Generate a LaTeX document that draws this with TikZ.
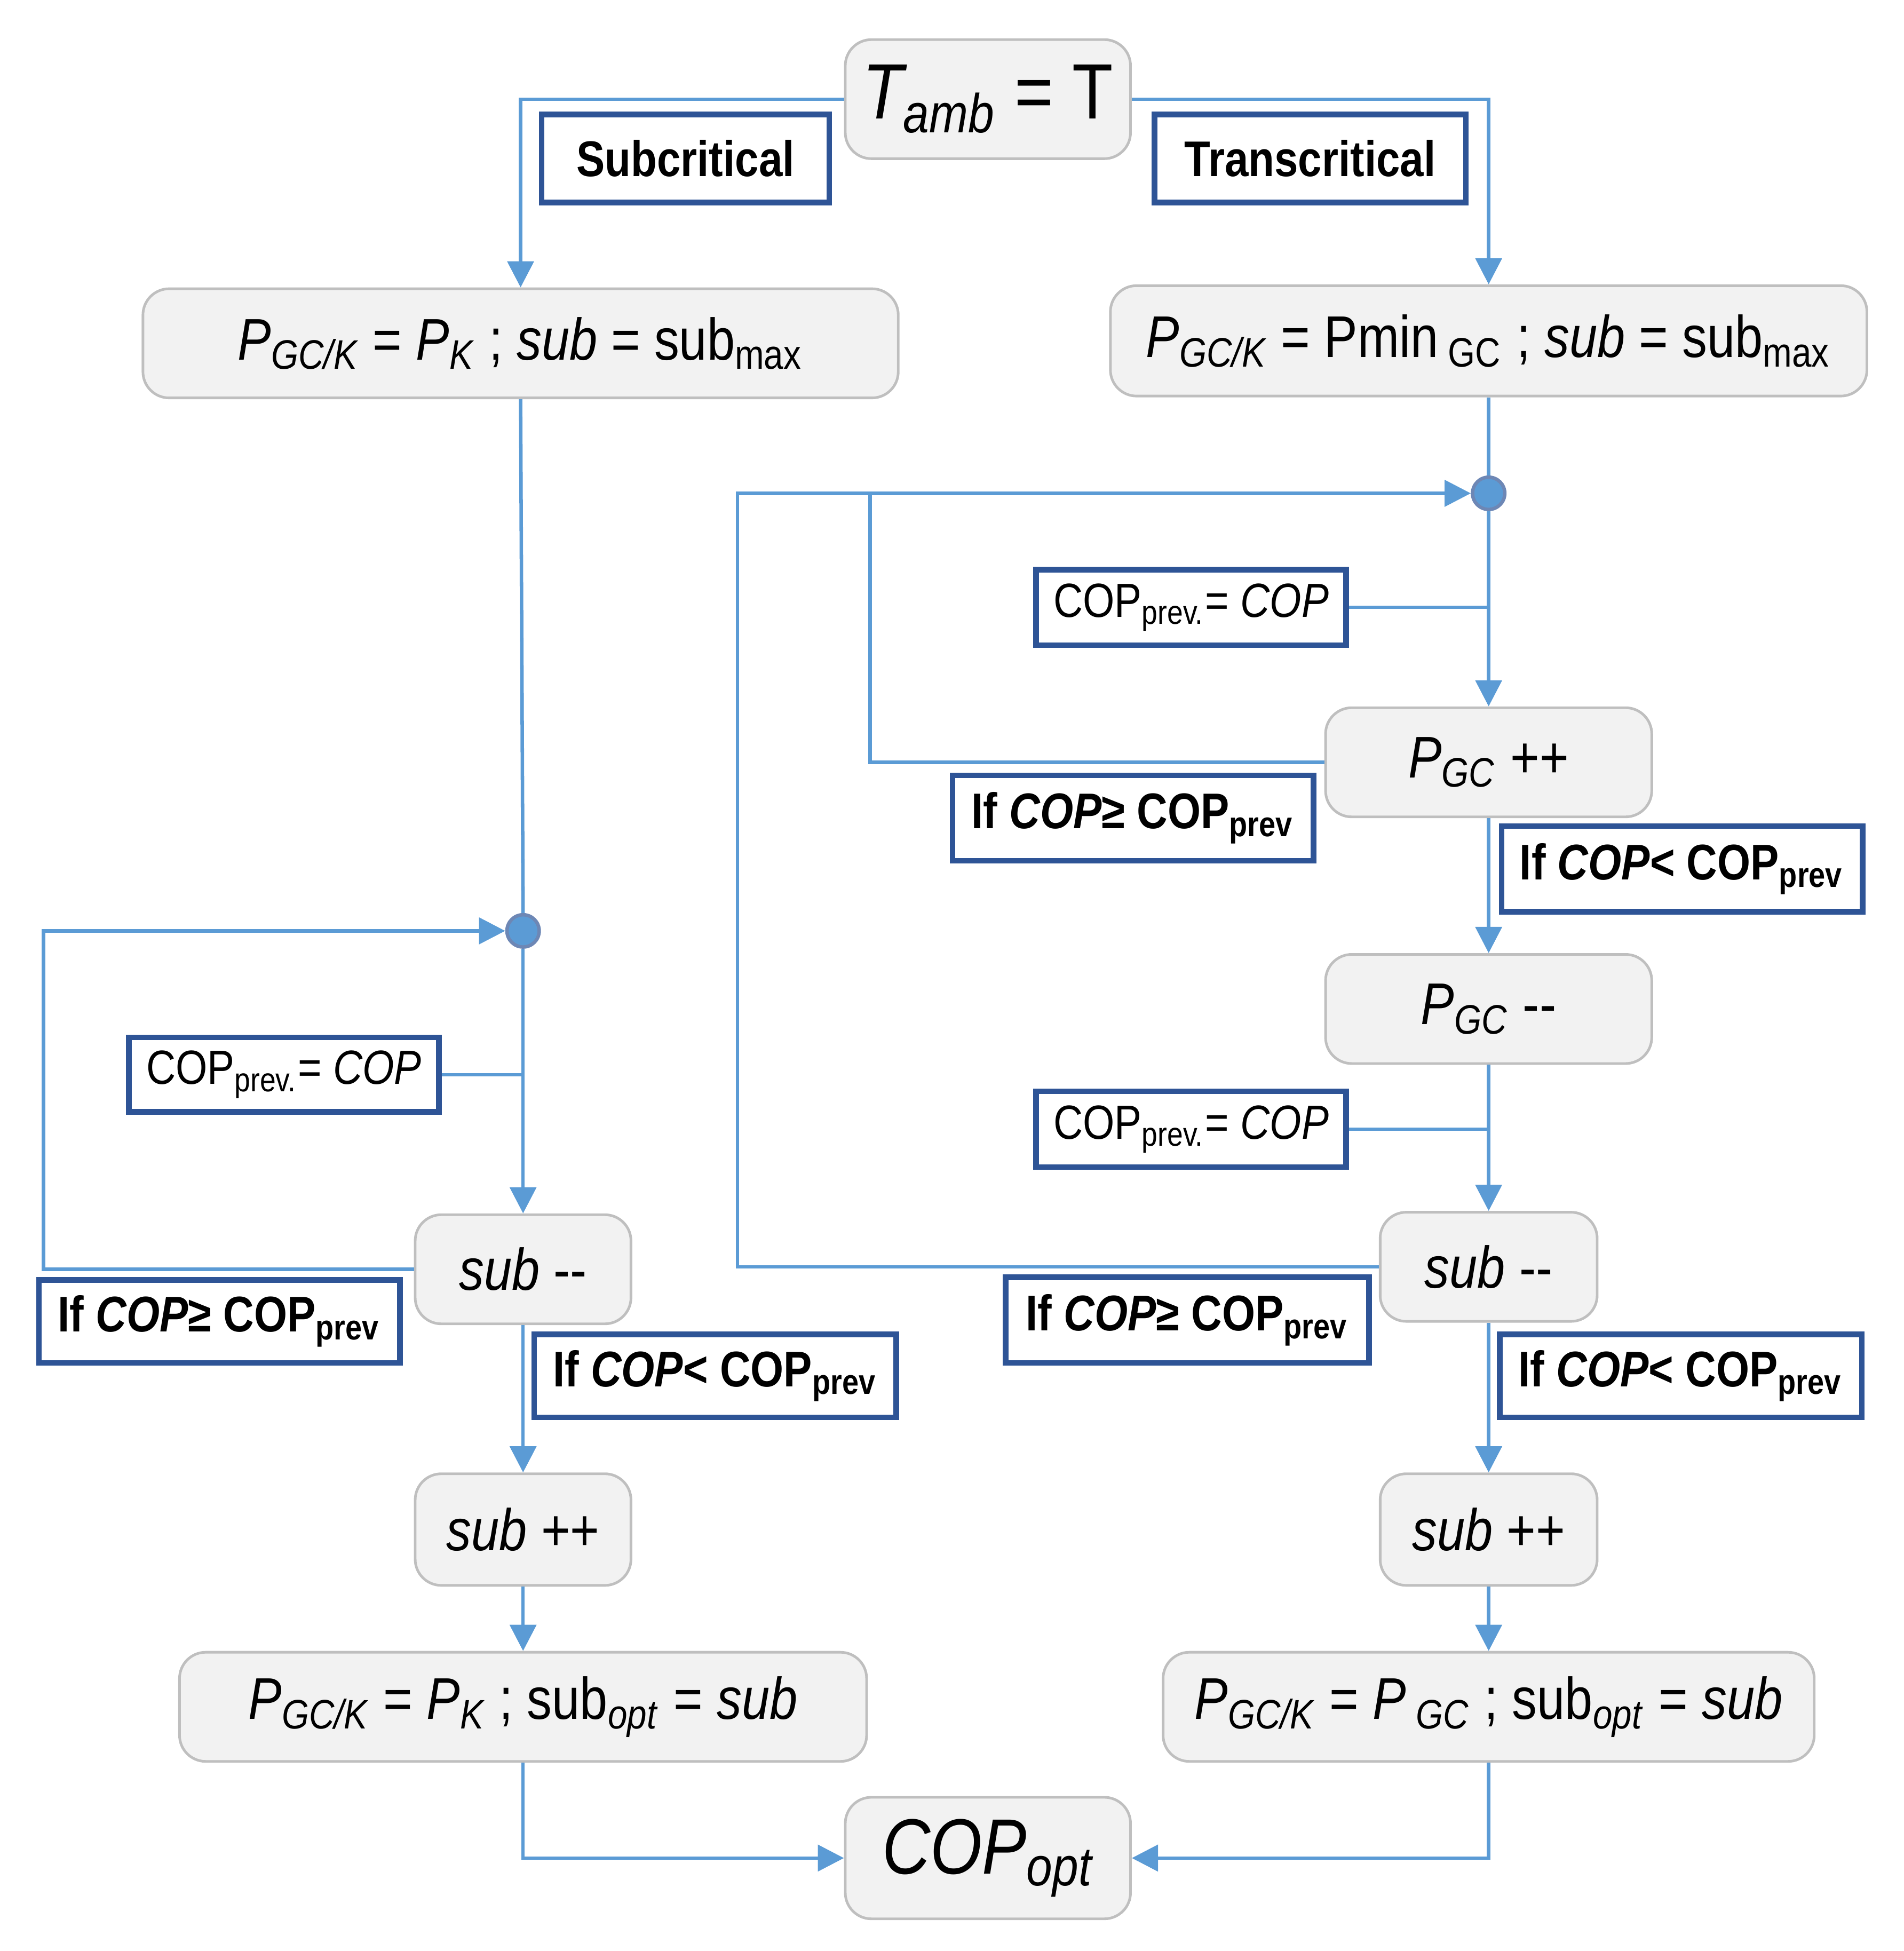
\documentclass[tikz,border=0pt]{standalone}
\usepackage{fontspec}
\setmainfont{Liberation Sans}[FakeStretch=0.85]
\usetikzlibrary{arrows.meta}
\definecolor{ln}{HTML}{5B9BD5}
\definecolor{bx}{HTML}{2E5496}
\definecolor{nf}{HTML}{F2F2F2}
\definecolor{nb}{HTML}{BFBFBF}
\newcommand{\sbs}[1]{\textsubscript{#1}}
\newcommand{\mm}{{-}{-}}
\begin{document}
\begin{tikzpicture}[x=0.01cm,y=-0.01cm,
  n/.style={draw=nb,fill=nf,rounded corners=6pt,inner sep=0pt,font=\fontsize{13.5}{15}\selectfont,line width=0.6pt},
  lb/.style={draw=bx,line width=1.3pt,fill=white,inner sep=0pt,font=\fontsize{11.5}{13}\selectfont\bfseries},
  cb/.style={draw=bx,line width=1.3pt,fill=white,inner sep=0pt,font=\fontsize{11}{13}\selectfont},
  c/.style={ln,line width=0.8pt},
  a/.style={c,-{Triangle[length=6pt,width=6pt]}},
  dot/.style={circle,fill=ln,draw=bx!70,line width=0.8pt,minimum size=0.26cm,inner sep=0pt}]
\useasboundingbox (0,0) rectangle (1536,1574);
\node[n,minimum width=2.3cm,minimum height=0.96cm,font=\fontsize{18}{20}\selectfont] (t) at (797,80) {\textit{T\sbs{amb}} = T};
\node[n,minimum width=6.09cm,minimum height=0.88cm] (lp) at (420,277) {\textit{P\sbs{GC/K}} = \textit{P\sbs{K}} ; \textit{sub} = sub\sbs{max}};
\node[n,minimum width=6.1cm,minimum height=0.89cm] (rp) at (1201,275) {\textit{P\sbs{GC/K}} = Pmin\,\sbs{GC} ; \textit{sub} = sub\sbs{max}};
\node[lb,minimum width=2.32cm,minimum height=0.71cm] (sc) at (553,128) {Subcritical};
\node[lb,minimum width=2.51cm,minimum height=0.71cm] (tc) at (1057,128) {Transcritical};
\node[dot] (rc) at (1201,398) {};
\node[cb,minimum width=2.5cm,minimum height=0.61cm] (c1) at (961,490) {COP\sbs{prev.}= \textit{COP}};
\node[n,minimum width=2.63cm,minimum height=0.88cm] (pp) at (1201,615) {\textit{P\sbs{GC}} ++};
\node[lb,minimum width=2.91cm,minimum height=0.69cm] (g1) at (914,660) {If \textit{COP}≥ COP\sbs{prev}};
\node[lb,minimum width=2.91cm,minimum height=0.69cm] (l1) at (1357,701) {If \textit{COP}< COP\sbs{prev}};
\node[n,minimum width=2.63cm,minimum height=0.88cm] (pm) at (1201,814) {\textit{P\sbs{GC}} \mm};
\node[cb,minimum width=2.5cm,minimum height=0.61cm] (c2) at (961,911) {COP\sbs{prev.}= \textit{COP}};
\node[n,minimum width=1.75cm,minimum height=0.88cm] (rs) at (1201,1022) {\textit{sub} \mm};
\node[lb,minimum width=2.93cm,minimum height=0.69cm] (g2) at (958,1065) {If \textit{COP}≥ COP\sbs{prev}};
\node[lb,minimum width=2.92cm,minimum height=0.67cm] (l2) at (1356,1110) {If \textit{COP}< COP\sbs{prev}};
\node[n,minimum width=1.75cm,minimum height=0.9cm] (rsp) at (1201,1234) {\textit{sub} ++};
\node[n,minimum width=5.25cm,minimum height=0.88cm] (rf) at (1201,1377) {\textit{P\sbs{GC/K}} = \textit{P\,\sbs{GC}} ; sub\sbs{\textit{opt}} = \textit{sub}};
\node[n,minimum width=2.3cm,minimum height=0.98cm,font=\fontsize{18}{20}\selectfont] (co) at (797,1499) {\textit{COP\sbs{opt}}};
\node[dot] (lc) at (422,751) {};
\node[cb,minimum width=2.5cm,minimum height=0.6cm] (c3) at (229,867) {COP\sbs{prev.}= \textit{COP}};
\node[n,minimum width=1.74cm,minimum height=0.88cm] (ls) at (422,1024) {\textit{sub} \mm};
\node[lb,minimum width=2.91cm,minimum height=0.67cm] (g3) at (177,1066) {If \textit{COP}≥ COP\sbs{prev}};
\node[lb,minimum width=2.92cm,minimum height=0.67cm] (l3) at (577,1110) {If \textit{COP}< COP\sbs{prev}};
\node[n,minimum width=1.74cm,minimum height=0.9cm] (lsp) at (422,1234) {\textit{sub} ++};
\node[n,minimum width=5.54cm,minimum height=0.88cm] (lf) at (422,1377) {\textit{P\sbs{GC/K}} = \textit{P\sbs{K}} ; sub\sbs{\textit{opt}} = \textit{sub}};
\draw[a] (t.west) -| (lp.north);
\draw[a] (t.east) -| (rp.north);
\draw[c] (rp.south) -- (rc.north);
\draw[a] (rc.south) -- (pp.north);
\draw[c] (c1.east) -- (c1.east -| rc);
\draw[c] (pp.west) -| (702,398);
\draw[a] (rs.west) -| (595,398) -- (rc.west);
\draw[a] (pp.south) -- (pm.north);
\draw[a] (pm.south) -- (rs.north);
\draw[c] (c2.east) -- (c2.east -| rs);
\draw[a] (rs.south) -- (rsp.north);
\draw[a] (rsp.south) -- (rf.north);
\draw[a] (rf.south) |- (co.east);
\draw[c] (lp.south) -- (lc.north);
\draw[a] (lc.south) -- (ls.north);
\draw[c] (c3.east) -- (c3.east -| lc);
\draw[a] (ls.west) -| (35,751) -- (lc.west);
\draw[a] (ls.south) -- (lsp.north);
\draw[a] (lsp.south) -- (lf.north);
\draw[a] (lf.south) |- (co.west);
\end{tikzpicture}
\end{document}
